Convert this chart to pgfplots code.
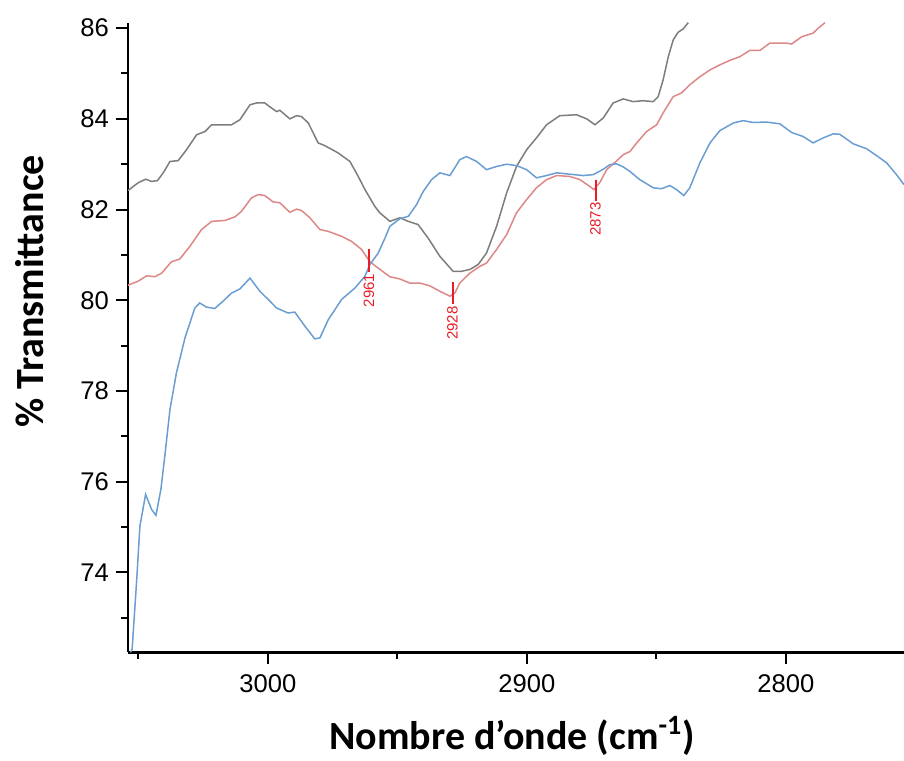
\documentclass[border=0pt]{standalone}
\usepackage{pgfplots}
\pgfplotsset{compat=1.18}
\usepackage{fontspec}
\setmainfont{Liberation Sans}
\newfontfamily\labelfont{Carlito}
\definecolor{grayline}{RGB}{125,125,125}
\definecolor{redline}{RGB}{222,135,135}
\definecolor{blueline}{RGB}{106,158,210}
\definecolor{annot}{RGB}{230,30,40}
\begin{document}
\begin{tikzpicture}
\begin{axis}[
  scale only axis,
  width=388pt, height=314.8pt,
  x dir=reverse,
  xmin=2754.4, xmax=3054,
  ymin=72.24, ymax=86.12,
  axis x line*=bottom, axis y line*=left,
  axis line style={line width=1.25pt, black},
  xtick={2800,2900,3000},
  minor xtick={2850,2950,3050},
  ytick={74,76,78,80,82,84,86},
  minor ytick={73,75,77,79,81,83,85},
  tick align=outside,
  major tick length=6pt, minor tick length=3.5pt,
  every tick/.style={line width=1pt, black},
  /pgf/number format/assume math mode=true,
  /pgf/number format/1000 sep={},
  tick label style={font=\fontsize{12.8}{14}\selectfont},
  xticklabel style={yshift=-1.5pt},
  xlabel={\labelfont\bfseries Nombre d’onde (cm\textsuperscript{-1})},
  ylabel={\labelfont\bfseries \% Transmittance},
  xlabel style={at={(axis description cs:0.495,0)}, anchor=center, yshift=-42pt, font=\fontsize{20}{23}\selectfont},
  ylabel style={at={(axis description cs:0,0.573)}, anchor=center, yshift=49pt, font=\fontsize{20}{23}\selectfont},
  every axis plot/.style={line width=0.75pt},
]
\addplot[grayline] coordinates {
(3054.0,82.42) (3053.3,82.45) (3050.1,82.59) (3047.2,82.67) (3044.9,82.62) (3042.6,82.64) (3040.4,82.81)
(3037.8,83.06) (3034.6,83.08) (3031.4,83.32) (3027.5,83.65) (3024.3,83.72) (3021.7,83.87)
(3017.9,83.87) (3014.0,83.87) (3010.8,83.98) (3006.9,84.31) (3004.4,84.35) (3001.2,84.35)
(2998.6,84.24) (2996.6,84.16) (2995.4,84.19) (2991.5,84.00) (2988.9,84.07) (2987.0,84.05)
(2984.4,83.91) (2980.6,83.47) (2978.0,83.41) (2972.9,83.25) (2968.3,83.06) (2965.1,82.73)
(2962.5,82.44) (2958.7,82.07) (2956.8,81.93) (2952.9,81.74) (2949.0,81.82) (2945.8,81.74)
(2942.0,81.67) (2938.1,81.37) (2933.6,80.97) (2928.5,80.64) (2925.2,80.64) (2922.0,80.68)
(2918.8,80.79) (2915.6,81.04) (2911.7,81.63) (2907.8,82.37) (2904.0,82.95) (2900.1,83.32)
(2896.3,83.58) (2892.4,83.87) (2887.3,84.07) (2880.8,84.09) (2876.9,84.00) (2873.7,83.87)
(2870.5,84.02) (2866.7,84.35) (2862.8,84.44) (2859.0,84.38) (2855.1,84.40) (2851.2,84.38)
(2849.3,84.49) (2847.4,84.86) (2845.4,85.37) (2843.5,85.74) (2841.6,85.91) (2839.7,85.98)
(2837.7,86.12)
};
\addplot[redline] coordinates {
(3054.0,80.33) (3053.3,80.35) (3050.1,80.42) (3046.8,80.54) (3043.6,80.52) (3041.0,80.60) (3037.2,80.85)
(3034.0,80.91) (3030.1,81.19) (3025.6,81.56) (3021.7,81.74) (3016.6,81.76) (3012.7,81.84)
(3010.2,81.96) (3006.3,82.26) (3003.7,82.33) (3001.2,82.31) (2998.0,82.17) (2995.4,82.15)
(2991.5,81.94) (2988.9,82.01) (2987.0,81.98) (2983.8,81.82) (2979.9,81.56) (2976.7,81.52)
(2971.5,81.41) (2967.7,81.30) (2963.8,81.12) (2960.6,80.85) (2957.4,80.71) (2954.8,80.60)
(2952.9,80.52) (2949.0,80.47) (2945.2,80.38) (2941.3,80.38) (2937.5,80.32) (2933.6,80.20)
(2929.7,80.09) (2927.8,80.16) (2925.9,80.38) (2922.0,80.60) (2918.1,80.75) (2915.6,80.82)
(2911.7,81.12) (2907.8,81.45) (2904.0,81.93) (2900.1,82.22) (2896.3,82.48) (2892.4,82.66)
(2888.5,82.75) (2883.4,82.73) (2879.5,82.66) (2875.7,82.51) (2874.1,82.44) (2871.8,82.60)
(2869.2,82.88) (2866.0,83.04) (2862.8,83.21) (2860.2,83.28) (2857.6,83.47) (2853.8,83.72)
(2849.9,83.87) (2847.4,84.13) (2843.5,84.49) (2840.3,84.57) (2837.1,84.75) (2833.2,84.93)
(2829.3,85.08) (2825.5,85.19) (2821.6,85.29) (2817.8,85.37) (2813.9,85.51) (2810.0,85.51)
(2806.2,85.67) (2799.7,85.67) (2797.8,85.65) (2793.9,85.81) (2789.5,85.89) (2787.5,86.00)
(2784.9,86.12)
};
\addplot[blueline] coordinates {
(3053.0,72.24) (3052.4,72.31) (3050.7,73.78) (3049.4,75.02) (3047.2,75.72) (3044.9,75.39) (3043.2,75.26)
(3041.3,75.83) (3039.8,76.56) (3037.8,77.59) (3035.3,78.40) (3032.0,79.17) (3028.2,79.83)
(3026.3,79.94) (3023.7,79.85) (3020.5,79.82) (3017.3,79.98) (3014.0,80.16) (3010.8,80.25)
(3006.9,80.49) (3003.1,80.20) (2999.9,80.02) (2996.6,79.83) (2992.2,79.72) (2989.6,79.74)
(2985.7,79.43) (2981.9,79.15) (2979.9,79.17) (2976.7,79.57) (2971.5,80.02) (2966.4,80.27)
(2962.5,80.53) (2960.6,80.79) (2957.4,81.04) (2954.8,81.37) (2952.9,81.63) (2949.0,81.80)
(2945.8,81.85) (2942.6,82.11) (2940.0,82.40) (2936.8,82.66) (2933.6,82.81) (2929.7,82.75)
(2925.9,83.10) (2923.3,83.17) (2919.4,83.06) (2915.6,82.88) (2911.7,82.95) (2907.8,83.00)
(2904.0,82.97) (2900.1,82.88) (2896.3,82.70) (2892.4,82.75) (2888.5,82.81) (2883.4,82.78)
(2878.3,82.75) (2874.4,82.77) (2870.5,82.89) (2868.0,82.99) (2865.4,83.01) (2862.8,82.94)
(2860.2,82.84) (2856.4,82.66) (2851.2,82.48) (2848.0,82.46) (2844.8,82.53) (2842.2,82.44)
(2839.4,82.31) (2837.1,82.48) (2833.2,83.03) (2829.3,83.47) (2825.5,83.74) (2820.3,83.91)
(2816.5,83.96) (2812.6,83.92) (2807.5,83.93) (2802.3,83.89) (2797.8,83.70) (2793.3,83.61)
(2789.5,83.47) (2785.6,83.58) (2781.7,83.67) (2779.2,83.66) (2774.0,83.45) (2768.8,83.34)
(2765.0,83.19) (2761.1,83.03) (2757.3,82.77) (2754.4,82.55)
};
\addplot[annot, line width=1pt] coordinates {(2961,81.14) (2961,80.63)}
  node[pos=1, rotate=90, anchor=east, inner sep=0.5pt, font=\fontsize{7.5}{9}\selectfont] {2961};
\addplot[annot, line width=1pt] coordinates {(2928.7,80.41) (2928.7,79.91)}
  node[pos=1, rotate=90, anchor=east, inner sep=0.5pt, font=\fontsize{7.5}{9}\selectfont] {2928};
\addplot[annot, line width=1pt] coordinates {(2873.5,82.66) (2873.5,82.20)}
  node[pos=1, rotate=90, anchor=east, inner sep=0.5pt, font=\fontsize{7.5}{9}\selectfont] {2873};
\coordinate (bl) at (axis description cs:0,0);
\coordinate (tr) at (axis description cs:1,1);
\end{axis}
\pgfresetboundingbox
\path[use as bounding box] ([xshift=-64pt,yshift=-54pt]bl) rectangle ([yshift=11.35pt]tr);
\end{tikzpicture}
\end{document}
